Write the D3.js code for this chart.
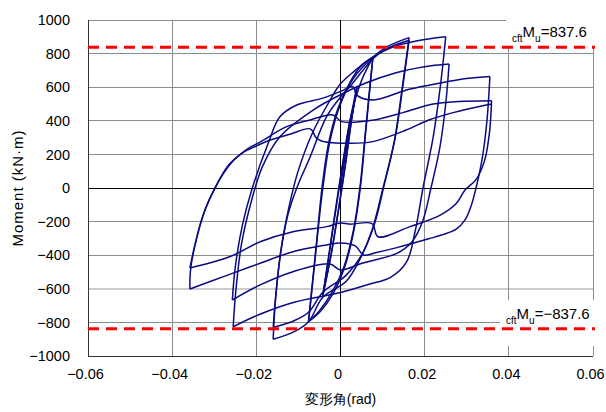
<!DOCTYPE html>
<html>
<head>
<meta charset="utf-8">
<script src="https://cdn.jsdelivr.net/npm/d3@7"></script>
<style>
  body { margin: 0; background: #fff; }
  svg { display: block; }
  text { font-family: "Liberation Sans", Arial, sans-serif; }
</style>
</head>
<body>
<div id="chart"></div>
<script>
"use strict";

// axis ticks
var xTicks = [-0.06, -0.04, -0.02, 0, 0.02, 0.04, 0.06];
var yTicks = [-1000, -800, -600, -400, -200, 0, 200, 400, 600, 800, 1000];

// capacity lines
var muLevels = [837.6, -837.6];

// hysteresis branches [rotation (rad), moment (kN·m)], tip to tip
var loadInit = [[0,0],[0.001,170],[0.002,330],[0.003,470],[0.0039,600]];
var c1Down   = [[0.0039,600],[0.0026,400],[0.0012,150],[-0.0005,-130],[-0.0022,-390],[-0.0042,-640]];
var c1Up     = [[-0.0042,-640],[-0.0029,-430],[-0.0013,-160],[0.0005,130],[0.0022,390],[0.0039,600]];
var c1Down2  = [[0.0039,600],[0.0027,420],[0.0013,160],[-0.0004,-120],[-0.0021,-380],[-0.0042,-640]];
var c2Load   = [[-0.0042,-640],[-0.0029,-420],[-0.0012,-130],[0.0006,160],[0.0025,430],[0.005,640],[0.0077,778]];
var c2Down   = [[0.0077,778],[0.0068,560],[0.0058,300],[0.0046,0],[0.003,-260],[0.0008,-470],[-0.002,-620],[-0.005,-730],[-0.0076,-796]];
var c2Up     = [[-0.0076,-796],[-0.0067,-570],[-0.0056,-300],[-0.0044,0],[-0.0028,270],[-0.0005,480],[0.0025,640],[0.005,730],[0.0077,778]];
var c2Down2  = [[0.0077,778],[0.0069,570],[0.0059,310],[0.0048,20],[0.0032,-250],[0.001,-470],[-0.0018,-630],[-0.0048,-735],[-0.0076,-796]];
var c3Load   = [[-0.0076,-796],[-0.0066,-560],[-0.0055,-290],[-0.0042,0],[-0.0025,280],[0,500],[0.003,650],[0.0077,778],[0.011,840],[0.0163,895]];
var c3Down   = [[0.0163,895],[0.0148,620],[0.0128,280],[0.0101,0],[0.0075,-250],[0.0045,-430],[0.0013,-557],[-0.0042,-650],[-0.0076,-796],[-0.011,-855],[-0.016,-900]];
var c3Up     = [[-0.016,-900],[-0.0155,-680],[-0.0143,-400],[-0.0125,-160],[-0.0104,0],[-0.0072,186],[-0.0033,425],[0.0003,550],[0.0023,605],[0.005,690],[0.0077,770],[0.011,830],[0.0163,880]];
var c3Down2  = [[0.0163,880],[0.015,640],[0.013,300],[0.0104,20],[0.008,-220],[0.005,-400],[0.0013,-520],[-0.0042,-620],[-0.0076,-740],[-0.011,-790],[-0.016,-830]];
var c4Load   = [[-0.016,-830],[-0.0153,-620],[-0.0141,-360],[-0.0123,-120],[-0.0102,90],[-0.0068,320],[-0.003,500],[0,620],[0.0035,700],[0.0077,780],[0.012,835],[0.018,875],[0.025,900]];
var c4Down   = [[0.025,900],[0.0238,620],[0.022,300],[0.0196,0],[0.0178,-250],[0.0157,-440],[0.012,-530],[0.0062,-577],[0,-622],[-0.003,-638],[-0.011,-680],[-0.019,-750],[-0.0255,-826]];
var c4Up     = [[-0.0255,-826],[-0.0249,-620],[-0.0235,-330],[-0.0211,-71],[-0.0185,130],[-0.0144,305],[-0.0065,464],[0,555],[0.006,625],[0.013,685],[0.02,722],[0.0258,738]];
var c4Down2  = [[0.0258,738],[0.025,500],[0.0236,240],[0.0215,0],[0.0195,-200],[0.017,-320],[0.0134,-389],[0.0053,-446],[0,-488],[-0.0025,-452],[-0.0113,-498],[-0.0191,-577],[-0.0257,-667]];
var c5Load   = [[-0.0257,-667],[-0.025,-470],[-0.0233,-220],[-0.0211,-12],[-0.0172,265],[-0.0144,424],[-0.0104,494],[-0.0042,535],[0,575],[0.003,603],[0.0038,554],[0.0078,524],[0.0157,583],[0.0213,613],[0.028,645],[0.0355,663]];
var c5Down   = [[0.0355,663],[0.0348,400],[0.0337,180],[0.0322,0],[0.031,-110],[0.0296,-190],[0.0275,-245],[0.024,-280],[0.0213,-300],[0.0134,-355],[0.0083,-385],[0.0055,-399],[0.0035,-345],[0,-327],[-0.0033,-339],[-0.0113,-379],[-0.0191,-448],[-0.027,-520],[-0.0358,-601]];
var c5Up     = [[-0.0358,-601],[-0.0356,-480],[-0.0342,-300],[-0.0322,-130],[-0.0302,-20],[-0.028,80],[-0.0252,170],[-0.022,235],[-0.019,275],[-0.0128,365],[-0.0072,405],[-0.0018,435],[0.0003,395],[0.008,405],[0.015,450],[0.022,500],[0.028,515],[0.0359,520]];
var c5Down2  = [[0.0359,520],[0.0354,330],[0.0342,160],[0.0322,50],[0.0296,-12],[0.0275,-92],[0.0237,-161],[0.0165,-230],[0.0089,-290],[0.0075,-212],[0.0023,-215],[0,-208],[-0.0033,-230],[-0.0113,-260],[-0.0191,-320],[-0.0262,-408],[-0.0358,-476]];
var c6Up     = [[-0.0358,-476],[-0.0345,-330],[-0.033,-190],[-0.0312,-70],[-0.029,40],[-0.0265,140],[-0.0235,205],[-0.02,250],[-0.0167,286],[-0.012,320],[-0.0072,352],[-0.0058,300],[-0.0045,280],[0.0023,266],[0.0077,276],[0.0156,345],[0.021,405],[0.027,450],[0.033,485],[0.036,500]];

var branches = [loadInit, c1Down, c1Up, c1Down2, c2Load, c2Down, c2Up, c2Down2,
  c3Load, c3Down, c3Up, c3Down2, c4Load, c4Down, c4Up, c4Down2,
  c5Load, c5Down, c5Up, c5Down2, c6Up];

var width = 606, height = 412;
var pLeft = 88, pRight = 593, pTop = 20, pBottom = 356;

var x = d3.scaleLinear().domain([-0.06, 0.06]).range([pLeft, pRight]);
var y = d3.scaleLinear().domain([-1000, 1000]).range([pBottom, pTop]);

var svg = d3.select("#chart").append("svg")
  .attr("width", width)
  .attr("height", height);

// grid
var grid = svg.append("g");
grid.selectAll("line.gy")
  .data(yTicks.filter(function(d) { return d !== 0; }))
  .enter().append("line")
  .attr("x1", pLeft).attr("x2", pRight)
  .attr("y1", function(d) { return y(d); })
  .attr("y2", function(d) { return y(d); })
  .attr("stroke", function(d) { return d === -600 ? "#cccccc" : "#8c8c8c"; })
  .attr("stroke-width", function(d) { return d === -600 ? 2 : 1; })
  .attr("shape-rendering", "crispEdges");
grid.selectAll("line.gx")
  .data(xTicks.filter(function(d) { return d !== 0; }))
  .enter().append("line")
  .attr("y1", pTop).attr("y2", pBottom)
  .attr("x1", function(d) { return x(d); })
  .attr("x2", function(d) { return x(d); })
  .attr("stroke", "#8c8c8c")
  .attr("stroke-width", 1)
  .attr("shape-rendering", "crispEdges");

// zero lines
grid.append("line")
  .attr("x1", pLeft).attr("x2", pRight)
  .attr("y1", y(0)).attr("y2", y(0))
  .attr("stroke", "#000").attr("shape-rendering", "crispEdges");
grid.append("line")
  .attr("x1", x(0)).attr("x2", x(0))
  .attr("y1", pTop).attr("y2", pBottom)
  .attr("stroke", "#000").attr("shape-rendering", "crispEdges");

// frame
svg.append("line").attr("x1", pLeft).attr("x2", pLeft).attr("y1", pTop).attr("y2", pBottom)
  .attr("stroke", "#333").attr("shape-rendering", "crispEdges");
svg.append("line").attr("x1", pLeft).attr("x2", pRight).attr("y1", pBottom).attr("y2", pBottom)
  .attr("stroke", "#333").attr("shape-rendering", "crispEdges");

// axes (labels only)
var xAxis = svg.append("g")
  .attr("transform", "translate(-3," + pBottom + ")")
  .call(d3.axisBottom(x).tickValues(xTicks).tickSize(0).tickPadding(13)
    .tickFormat(function(d) { return d === 0 ? "0" : d3.format(".2f")(d); }));
var yAxis = svg.append("g")
  .attr("transform", "translate(" + pLeft + ",0)")
  .call(d3.axisLeft(y).tickValues(yTicks).tickSize(0).tickPadding(18)
    .tickFormat(d3.format("d")));
[xAxis, yAxis].forEach(function(a) {
  a.select(".domain").remove();
  a.selectAll("text")
    .attr("font-size", 14.5)
    .attr("font-family", "\"Liberation Sans\", Arial, sans-serif")
    .attr("fill", "#000");
});

// label backgrounds
svg.append("rect").attr("x", 506).attr("y", 16).attr("width", 100).attr("height", 30).attr("fill", "#fff");
svg.append("rect").attr("x", 500).attr("y", 300).attr("width", 106).attr("height", 46).attr("fill", "#fff");

// hysteresis curves
var line = d3.line()
  .x(function(d) { return x(d[0]); })
  .y(function(d) { return y(d[1]); })
  .curve(d3.curveCatmullRom.alpha(0.5));

svg.append("g")
  .selectAll("path")
  .data(branches)
  .enter().append("path")
  .attr("d", line)
  .attr("fill", "none")
  .attr("stroke", "#0a0a82")
  .attr("stroke-width", 1.5)
  .attr("stroke-linejoin", "round");

// capacity lines
svg.selectAll("line.mu")
  .data(muLevels)
  .enter().append("line")
  .attr("x1", pLeft).attr("x2", pRight + 2)
  .attr("y1", function(d) { return y(d); })
  .attr("y2", function(d) { return y(d); })
  .attr("stroke", "#ff0000")
  .attr("stroke-width", 3)
  .attr("stroke-dasharray", "11,7");

// capacity labels
var labelPos = [[512, 37], [506, 319]];
muLevels.forEach(function(v, i) {
  var t = svg.append("text")
    .attr("x", labelPos[i][0])
    .attr("y", labelPos[i][1])
    .attr("fill", "#000")
    .attr("font-size", 15);
  t.append("tspan").attr("font-size", 10).attr("dy", 5).text("cft");
  t.append("tspan").attr("dy", -5).text("M");
  t.append("tspan").attr("font-size", 10).attr("dy", 5).text("u");
  t.append("tspan").attr("dy", -5).text("=" + d3.format(".1f")(v));
});

// axis titles
svg.append("text")
  .attr("transform", "translate(23," + y(0) + ") rotate(-90)")
  .attr("text-anchor", "middle")
  .attr("font-size", 15)
  .attr("letter-spacing", 1)
  .text("Moment (kN·m)");
svg.append("text")
  .attr("x", x(0))
  .attr("y", 404)
  .attr("text-anchor", "middle")
  .attr("font-size", 14)
  .attr("font-family", "\"Noto Sans CJK JP\", sans-serif")
  .text("変形角(rad)");
</script>
</body>
</html>
